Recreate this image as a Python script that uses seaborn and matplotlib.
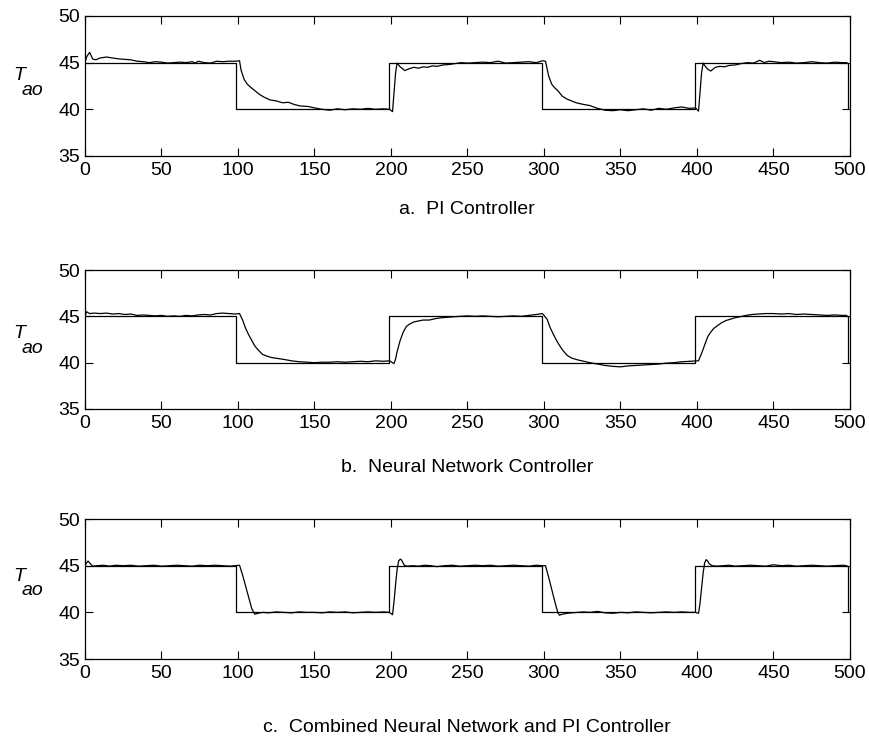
import matplotlib
matplotlib.use("Agg")
import matplotlib.pyplot as plt
import seaborn as sns

# setpoint (square wave)
set_t = [0, 99, 99, 199, 199, 299, 299, 399, 399, 499, 499]
set_y = [45, 45, 40, 40, 45, 45, 40, 40, 45, 45, 40]

# a. PI controller response
pi_t = [0, 1, 3, 5, 7, 10, 14, 18, 22, 26, 30, 34, 38, 42, 46, 50, 54, 58, 62, 66, 70, 72, 74, 78, 82, 86, 90, 94, 98, 101,
        102, 104, 106, 108, 111, 114, 117, 121, 125, 129, 133, 137, 141, 146, 150, 155, 160, 165, 170, 175, 180, 185, 190, 195, 199,
        201, 202, 203, 204, 206, 209, 212, 215, 218, 221, 224, 227, 230, 234, 238, 242, 246, 250, 255, 260, 265, 270, 275, 280, 285, 290, 295, 299,
        301, 303, 305, 307, 309, 312, 315, 318, 321, 325, 330, 335, 340, 345, 350, 355, 360, 365, 370, 375, 380, 385, 390, 395, 399,
        401, 402, 403, 404, 405, 407, 409, 412, 415, 418, 421, 425, 429, 433, 437, 441, 444, 447, 450, 455, 460, 465, 470, 475, 480, 485, 490, 495, 498]
pi_y = [45.0, 45.6, 46.1, 45.4, 45.3, 45.5, 45.6, 45.5, 45.4, 45.35, 45.3, 45.15, 45.1, 45.0, 45.1, 45.05, 44.95, 45.0, 45.05, 45.0, 45.1, 44.95, 45.15, 45.0, 44.95, 45.15, 45.1, 45.15, 45.15, 45.2,
        44.2, 43.2, 42.7, 42.4, 42.0, 41.6, 41.3, 41.0, 40.9, 40.7, 40.75, 40.5, 40.35, 40.3, 40.15, 40.0, 39.9, 40.05, 39.95, 40.05, 40.0, 40.1, 40.0, 40.05, 40.0,
        39.75, 41.8, 43.9, 44.95, 44.55, 44.15, 44.35, 44.5, 44.4, 44.55, 44.5, 44.65, 44.6, 44.75, 44.8, 44.9, 45.0, 44.95, 45.0, 45.05, 45.0, 45.15, 44.95, 45.0, 45.05, 45.1, 45.0, 45.2,
        45.15, 43.6, 42.7, 42.3, 42.0, 41.4, 41.1, 40.9, 40.7, 40.55, 40.4, 40.1, 39.9, 39.85, 39.95, 39.85, 39.95, 40.05, 39.9, 40.1, 40.0, 40.15, 40.25, 40.1, 40.15,
        39.8, 41.8, 43.9, 44.95, 44.7, 44.3, 44.1, 44.5, 44.6, 44.55, 44.7, 44.75, 44.9, 45.0, 44.95, 45.25, 45.0, 45.15, 45.1, 45.0, 45.05, 44.95, 45.0, 45.1, 45.0, 44.95, 45.05, 45.0, 45.0]

# b. neural network controller response
nn_t = [0, 1, 3, 6, 10, 14, 18, 22, 26, 30, 34, 38, 42, 46, 50, 54, 58, 62, 66, 70, 74, 78, 82, 86, 90, 94, 98, 101,
        103, 105, 107, 109, 111, 113, 116, 119, 122, 126, 130, 135, 140, 145, 150, 155, 160, 165, 170, 175, 180, 185, 190, 195, 199,
        201, 202, 203, 204, 206, 208, 210, 212, 215, 218, 221, 225, 229, 233, 237, 241, 245, 250, 255, 260, 265, 270, 275, 280, 285, 290, 295, 299,
        302, 304, 306, 308, 310, 312, 315, 318, 322, 326, 330, 335, 340, 345, 350, 355, 360, 365, 370, 375, 380, 385, 390, 395, 399,
        401, 403, 405, 407, 409, 411, 413, 416, 419, 422, 425, 428, 432, 436, 440, 445, 450, 455, 460, 465, 470, 475, 480, 485, 490, 495, 498]
nn_y = [45.0, 45.5, 45.3, 45.35, 45.3, 45.35, 45.25, 45.3, 45.2, 45.25, 45.1, 45.15, 45.1, 45.05, 45.1, 45.0, 45.05, 45.0, 45.1, 45.05, 45.15, 45.2, 45.15, 45.3, 45.35, 45.3, 45.25, 45.3,
        44.6, 43.7, 43.0, 42.4, 41.8, 41.4, 40.9, 40.7, 40.55, 40.45, 40.35, 40.2, 40.1, 40.05, 40.0, 40.05, 40.05, 40.1, 40.05, 40.1, 40.15, 40.1, 40.2, 40.15, 40.2,
        40.0, 39.9, 40.4, 41.2, 42.4, 43.3, 43.9, 44.15, 44.4, 44.5, 44.6, 44.6, 44.75, 44.85, 44.9, 44.95, 45.0, 45.05, 45.0, 45.05, 45.0, 44.95, 45.0, 45.05, 45.0, 45.1, 45.2, 45.3,
        44.7, 43.8, 43.1, 42.45, 41.9, 41.4, 40.8, 40.5, 40.3, 40.15, 40.0, 39.85, 39.7, 39.6, 39.55, 39.65, 39.7, 39.75, 39.8, 39.85, 39.95, 40.0, 40.1, 40.15, 40.2,
        40.2, 41.0, 41.9, 42.8, 43.3, 43.7, 43.95, 44.3, 44.55, 44.7, 44.85, 44.95, 45.1, 45.2, 45.25, 45.3, 45.3, 45.25, 45.3, 45.2, 45.25, 45.2, 45.15, 45.1, 45.15, 45.1, 45.1]

# c. combined NN + PI controller response
cb_t = [0, 1, 2, 3, 5, 8, 12, 16, 20, 25, 30, 35, 40, 45, 50, 55, 60, 65, 70, 75, 80, 85, 90, 95, 101,
        103, 105, 107, 109, 111, 113, 116, 120, 125, 130, 135, 140, 145, 150, 155, 160, 165, 170, 175, 180, 185, 190, 195, 199,
        201, 202, 203, 204, 205, 206, 207, 208, 209, 211, 214, 218, 222, 226, 230, 235, 240, 245, 250, 255, 260, 265, 270, 275, 280, 285, 290, 295, 299,
        301, 303, 305, 307, 309, 310, 312, 315, 318, 322, 326, 330, 335, 340, 345, 350, 355, 360, 365, 370, 375, 380, 385, 390, 395, 399,
        401, 402, 403, 404, 405, 406, 407, 408, 410, 413, 417, 421, 425, 430, 435, 440, 445, 450, 455, 460, 465, 470, 475, 480, 485, 490, 495, 498]
cb_y = [45.0, 45.3, 45.5, 45.3, 44.95, 45.0, 45.05, 44.95, 45.05, 45.0, 45.05, 44.95, 45.0, 45.05, 44.95, 45.0, 45.05, 45.0, 44.95, 45.05, 45.0, 45.05, 45.0, 44.95, 45.05,
        44.0, 42.8, 41.6, 40.4, 39.8, 39.9, 40.0, 39.95, 40.05, 40.0, 39.95, 40.05, 40.0, 40.0, 39.95, 40.05, 40.0, 40.05, 39.95, 40.0, 40.05, 40.0, 40.05, 40.0,
        39.75, 41.2, 43.0, 44.6, 45.5, 45.7, 45.6, 45.25, 45.0, 44.95, 45.0, 44.95, 45.05, 45.0, 44.9, 45.0, 45.05, 44.95, 45.0, 45.05, 45.0, 45.05, 44.95, 45.0, 45.05, 45.0, 44.95, 45.05, 45.0,
        45.0, 43.8, 42.5, 41.2, 40.0, 39.7, 39.8, 39.9, 39.95, 40.0, 40.05, 40.0, 40.1, 39.95, 39.9, 40.0, 39.95, 40.05, 40.0, 39.95, 40.0, 40.05, 40.0, 40.05, 40.0, 40.0,
        39.9, 41.0, 42.6, 44.2, 45.3, 45.65, 45.5, 45.2, 45.0, 44.95, 45.0, 45.05, 44.95, 45.0, 45.05, 45.0, 44.95, 45.1, 45.0, 45.05, 44.95, 45.0, 45.05, 45.0, 44.95, 45.0, 45.05, 45.0]

captions = ["a.  PI Controller", "b.  Neural Network Controller", "c.  Combined Neural Network and PI Controller"]
x_ticks = list(range(0, 501, 50))
y_ticks = [35, 40, 45, 50]

sns.set_theme(style="ticks", rc={"axes.edgecolor": "black", "text.color": "black",
                                 "xtick.color": "black", "ytick.color": "black",
                                 "axes.linewidth": 0.9})
plt.rcParams["font.family"] = ["Liberation Sans", "DejaVu Sans"]

fig = plt.figure(figsize=(8.7, 7.42), dpi=100)

# axes boxes [left, bottom, width, height] in figure fractions
boxes = [[0.0977, 0.7898, 0.8793, 0.1887],
         [0.0977, 0.4488, 0.8793, 0.1873],
         [0.0977, 0.1118, 0.8793, 0.1887]]
caption_y = [0.7116, 0.3645, 0.0135]
label_pos = [(0.543, 0.436), (0.51, 0.40), (0.557, 0.457)]

series = [(pi_t, pi_y), (nn_t, nn_y), (cb_t, cb_y)]

for i, (t, y) in enumerate(series):
    ax = fig.add_axes(boxes[i])
    sns.lineplot(x=set_t, y=set_y, ax=ax, color="black", lw=0.9,
                 estimator=None, sort=False)
    sns.lineplot(x=t, y=y, ax=ax, color="black", lw=0.9,
                 estimator=None, sort=False)
    ax.set_xlim(0, 500)
    ax.set_ylim(35, 50)
    ax.set_xticks(x_ticks)
    ax.set_yticks(y_ticks)
    ax.set_xlabel("")
    ax.set_ylabel("")
    for s in ax.spines.values():
        s.set_visible(True)
    ax.tick_params(direction="in", top=True, right=True, bottom=True, left=True,
                   length=5.5, width=0.8, labelsize=14)
    ax.tick_params(axis="x", pad=4)

    # T_ao label
    ty, sy = label_pos[i]
    ax.text(-0.0863, ty, "T", transform=ax.transAxes, ha="center", va="baseline",
            fontsize=14, fontstyle="italic")
    ax.text(-0.0693, sy, "ao", transform=ax.transAxes, ha="center", va="baseline",
            fontsize=14, fontstyle="italic")

    fig.text(0.537, caption_y[i], captions[i], ha="center", va="baseline", fontsize=14)

fig.savefig("out.png", dpi=100)
